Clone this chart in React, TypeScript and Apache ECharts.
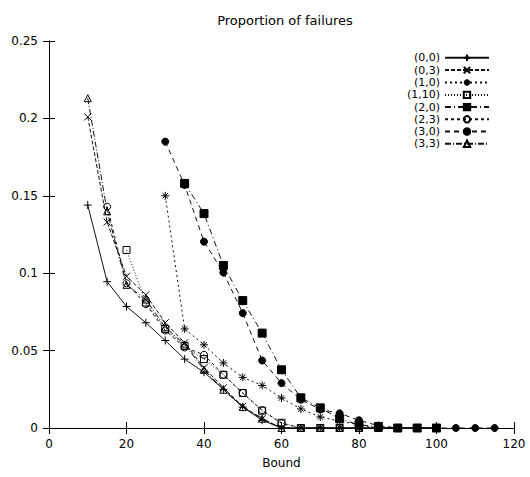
import React, { useEffect, useRef } from "react";
import * as echarts from "echarts";

const bounds = [10, 15, 20, 25, 30, 35, 40, 45, 50, 55, 60, 65, 70, 75, 80, 85, 90, 95, 100, 105, 110, 115];

const s00 = [0.144, 0.0945, 0.0785, 0.068, 0.0565, 0.0445, 0.036, 0.025, 0.0135, 0.005, 0, 0, 0, 0, 0, 0, 0, 0, 0, null, null, null];
const s03 = [0.201, 0.133, 0.098, 0.086, 0.068, 0.055, 0.039, 0.026, 0.014, 0.006, 0, 0, 0, 0, 0, 0, 0, 0, 0, null, null, null];
const s10 = [null, null, null, null, 0.15, 0.064, 0.0537, 0.042, 0.0327, 0.0275, 0.0194, 0.0123, 0.0071, 0.0045, 0.002, 0, 0, 0, 0, null, null, null];
const s110 = [null, null, 0.115, 0.081, 0.064, 0.053, 0.0445, 0.0344, 0.0226, 0.0112, 0.0034, 0, 0, 0, 0, 0, 0, 0, 0, null, null, null];
const s20 = [null, null, null, null, null, 0.158, 0.1385, 0.105, 0.0823, 0.0613, 0.0376, 0.0195, 0.013, 0.006, 0.002, 0.001, 0, 0, 0, null, null, null];
const s23 = [null, 0.143, 0.0935, 0.08, 0.063, 0.052, 0.0473, 0.0344, 0.0226, 0.0115, 0.003, 0, 0, 0, 0, 0, 0, 0, 0, null, null, null];
const s30 = [null, null, null, null, 0.185, 0.157, 0.1204, 0.1004, 0.0742, 0.0436, 0.029, 0.0183, 0.012, 0.0095, 0.005, 0.0015, 0, 0, 0, 0, 0, 0];
const s33 = [0.213, 0.14, 0.0925, 0.083, 0.065, 0.054, 0.0376, 0.0247, 0.0135, 0.006, 0, 0, 0, 0, 0, 0, 0, 0, 0, null, null, null];

const seriesNames = ["(0,0)", "(0,3)", "(1,0)", "(1,10)", "(2,0)", "(2,3)", "(3,0)", "(3,3)"];
const seriesValues = [s00, s03, s10, s110, s20, s23, s30, s33];

const xTicks = [0, 20, 40, 60, 80, 100, 120];
const yTicks = [0, 0.05, 0.1, 0.15, 0.2, 0.25];

const FONT = "DejaVu Sans, Verdana, sans-serif";

const PLUS = "path://M0,5L10,5M5,0L5,10";
const CROSS = "path://M1,1L9,9M1,9L9,1";
const STAR = "path://M0,5L10,5M5,0L5,10M1.5,1.5L8.5,8.5M1.5,8.5L8.5,1.5";

const styles = [
  { symbol: PLUS, size: 8, fill: "none", dash: "solid" as any },
  { symbol: CROSS, size: 7, fill: "none", dash: [4, 2] },
  { symbol: STAR, size: 8, fill: "none", dash: [2, 3] },
  { symbol: "rect", size: 7, fill: "none", dash: [1, 2] },
  { symbol: "rect", size: 8, fill: "#000", dash: [6, 3, 1, 3] },
  { symbol: "circle", size: 7, fill: "none", dash: [3, 3] },
  { symbol: "circle", size: 7, fill: "#000", dash: [5, 4] },
  { symbol: "triangle", size: 7, fill: "none", dash: [6, 2, 1, 2] },
];

export default function App() {
  const ref = useRef<HTMLDivElement>(null);
  useEffect(() => {
    if (!ref.current) return;
    const chart = echarts.init(ref.current, null, { renderer: "svg" });
    const series = seriesNames.map((name, k) => {
      const st = styles[k];
      const data = bounds
        .map((b, i) => [b, seriesValues[k][i]])
        .filter((d) => d[1] !== null);
      return {
        name,
        type: "line",
        data,
        symbol: st.symbol,
        symbolSize: st.size,
        showAllSymbol: true,
        xAxisIndex: 0,
        yAxisIndex: 0,
        lineStyle: { color: "#111", width: 1, type: st.dash },
        itemStyle: { color: st.fill, borderColor: "#000", borderWidth: 1 },
        emphasis: { disabled: true },
        z: 2 + k,
      };
    });
    const axisCommon = {
      axisLine: { show: true, lineStyle: { color: "#000", width: 1 } },
      axisTick: { show: true, inside: true, length: 6, lineStyle: { color: "#000" } },
      splitLine: { show: false },
    };
    chart.setOption({
      animation: false,
      title: {
        text: "Proportion of failures",
        left: 280,
        top: 9,
        textAlign: "center",
        textStyle: { fontFamily: FONT, fontSize: 13, fontWeight: "normal", color: "#000" },
      },
      legend: {
        orient: "vertical",
        right: 35,
        top: 47,
        align: "right",
        itemWidth: 44,
        itemHeight: 8,
        itemGap: 1,
        data: seriesNames,
        textStyle: { fontFamily: FONT, fontSize: 11, color: "#000" },
        selectedMode: false,
      },
      grid: { left: 49, right: 16, top: 41, bottom: 49 },
      xAxis: [
        {
          type: "value",
          position: "bottom",
          min: xTicks[0],
          max: xTicks[xTicks.length - 1],
          interval: 20,
          ...axisCommon,
          axisLabel: { color: "#000", fontFamily: FONT, fontSize: 12, margin: 10 },
          name: "Bound",
          nameLocation: "middle",
          nameGap: 29,
          nameTextStyle: { color: "#000", fontFamily: FONT, fontSize: 12 },
        },
        {
          type: "value",
          position: "top",
          min: xTicks[0],
          max: xTicks[xTicks.length - 1],
          interval: 20,
          ...axisCommon,
          axisLabel: { show: false },
        },
      ],
      yAxis: [
        {
          type: "value",
          position: "left",
          min: yTicks[0],
          max: yTicks[yTicks.length - 1],
          interval: 0.05,
          ...axisCommon,
          axisLabel: {
            color: "#000",
            fontFamily: FONT,
            fontSize: 12,
            margin: 11,
            formatter: (v: number) => String(parseFloat(v.toFixed(2))),
          },
        },
        {
          type: "value",
          position: "right",
          min: yTicks[0],
          max: yTicks[yTicks.length - 1],
          interval: 0.05,
          ...axisCommon,
          axisLabel: { show: false },
        },
      ],
      series,
    });
    return () => chart.dispose();
  }, []);
  return (
    <div
      ref={ref}
      style={{ position: "fixed", left: 0, top: 0, width: 530, height: 477, background: "#fff" }}
    />
  );
}
